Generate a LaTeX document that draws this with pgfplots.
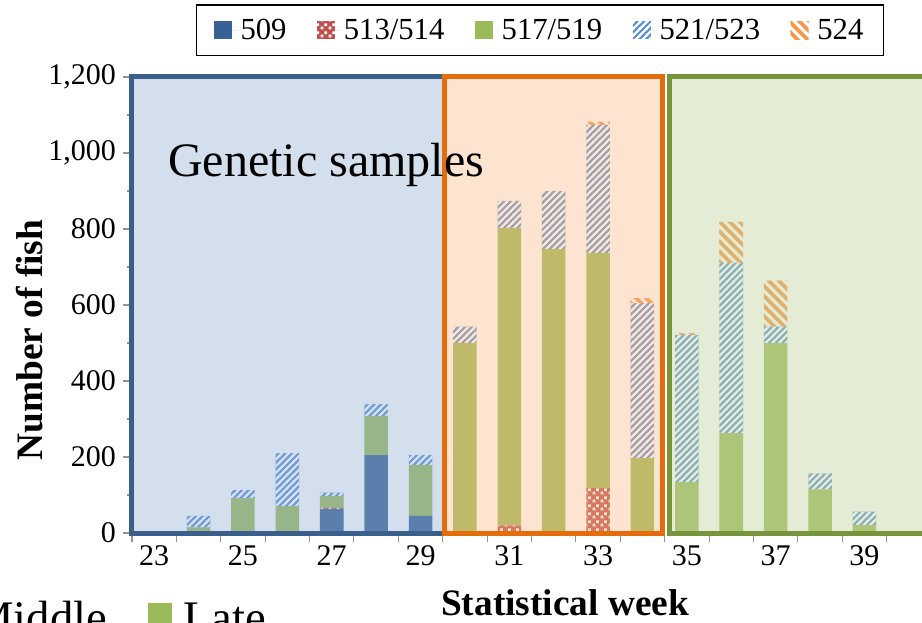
\documentclass[border=0pt]{standalone}
\usepackage{fontspec}
\setmainfont{Liberation Serif}
\usepackage{pgfplots}
\pgfplotsset{compat=1.18}
\usetikzlibrary{patterns}

\definecolor{c509}{RGB}{56,98,149}
\definecolor{c513}{RGB}{192,80,77}
\definecolor{c517}{RGB}{155,187,89}
\definecolor{c521}{RGB}{85,142,213}
\definecolor{c524}{RGB}{247,150,70}
\definecolor{ovblue}{RGB}{145,173,211}
\definecolor{ovorange}{RGB}{250,186,134}
\definecolor{ovgreen}{RGB}{196,212,162}
\definecolor{bdblue}{RGB}{58,95,139}
\definecolor{bdorange}{RGB}{228,108,10}
\definecolor{bdgreen}{RGB}{119,147,60}

% hatch fills
\pgfdeclarepatternformonly{stripesNE}{\pgfqpoint{-1pt}{-1pt}}{\pgfqpoint{6pt}{6pt}}{\pgfqpoint{5pt}{5pt}}{%
  \pgfsetlinewidth{1.7pt}%
  \pgfpathmoveto{\pgfqpoint{-1pt}{-1pt}}%
  \pgfpathlineto{\pgfqpoint{6pt}{6pt}}%
  \pgfusepath{stroke}}
\pgfdeclarepatternformonly{stripesNW}{\pgfqpoint{-1pt}{-1pt}}{\pgfqpoint{8.5pt}{8.5pt}}{\pgfqpoint{7.5pt}{7.5pt}}{%
  \pgfsetlinewidth{2.8pt}%
  \pgfpathmoveto{\pgfqpoint{-1pt}{8.5pt}}%
  \pgfpathlineto{\pgfqpoint{8.5pt}{-1pt}}%
  \pgfusepath{stroke}}
\pgfdeclarepatternformonly{squaresW}{\pgfqpoint{0pt}{0pt}}{\pgfqpoint{6pt}{6pt}}{\pgfqpoint{6pt}{6pt}}{%
  \pgfpathrectangle{\pgfqpoint{0.5pt}{0.5pt}}{\pgfqpoint{2.3pt}{2.3pt}}%
  \pgfpathrectangle{\pgfqpoint{3.5pt}{3.2pt}}{\pgfqpoint{2.3pt}{2.3pt}}%
  \pgfusepath{fill}}

\begin{document}
\begin{tikzpicture}
\path[use as bounding box, clip] (-99pt,-66.75pt) rectangle (592.5pt,399.75pt);
\begin{axis}[
  scale only axis, width=599.25pt, height=342pt,
  ybar stacked, bar width=0.53,
  xmin=22.5, xmax=40.5, ymin=0, ymax=1200,
  clip=false,
  axis line style={draw=none},
  tick pos=left, tick align=outside,
  tick style={color=gray!85, line width=0.8pt},
  major tick length=6.5pt, minor tick length=3.8pt,
  xtick={22.5,23.5,...,40.5}, xticklabels={},
  extra x ticks={23,25,...,39},
  extra x tick style={major tick length=0pt},
  ytick={0,200,...,1200}, minor y tick num=1,
  tick label style={font=\fontsize{22.5}{27}\selectfont},
  xticklabel style={yshift=-6pt},
  yticklabel style={xshift=-2pt},
  ylabel={Number of fish},
  ylabel style={font=\bfseries\fontsize{28}{34}\selectfont, at={(axis description cs:-0.128,0.423)}, anchor=center},
  xlabel={Statistical week},
  xlabel style={font=\bfseries\fontsize{28}{34}\selectfont, at={(axis description cs:0.542,-0.182)}, anchor=base},
  legend image code/.code={\path[#1] (0pt,-6.75pt) rectangle (13.5pt,6.75pt); \path (0pt,0pt) -- (18pt,0pt);},
  legend style={at={(axis description cs:0.5106,1.103)}, anchor=center,
    legend columns=-1, draw=black, line width=1pt,
    font=\fontsize{23}{28}\selectfont, inner xsep=13pt, inner ysep=8.5pt,
    /tikz/every even column/.append style={column sep=21pt}},
  /pgf/number format/assume math mode=true,
]
\addplot[fill=c509, draw=none] coordinates {
 (24,0) (25,0) (26,0) (27,63) (28,205) (29,45) (30,0) (31,0)
 (32,0) (33,5) (34,0) (35,0) (36,0) (37,0) (38,0) (39,0)};
\addplot[fill=c513, draw=none, postaction={pattern=squaresW, pattern color=white}] coordinates {
 (24,0) (25,0) (26,0) (27,3) (28,0) (29,0) (30,0) (31,20)
 (32,0) (33,113) (34,0) (35,0) (36,0) (37,5) (38,0) (39,0)};
\addplot[fill=c517, draw=none] coordinates {
 (24,15) (25,92) (26,71) (27,32) (28,103) (29,134) (30,500) (31,783)
 (32,747) (33,619) (34,197) (35,134) (36,263) (37,495) (38,115) (39,21)};
\addplot[fill=c521, draw=none, postaction={pattern=stripesNE, pattern color=white}] coordinates {
 (24,30) (25,21) (26,139) (27,8) (28,31) (29,26) (30,43) (31,71)
 (32,153) (33,337) (34,408) (35,387) (36,448) (37,43) (38,42) (39,35)};
\addplot[fill=white, draw=none, postaction={pattern=stripesNW, pattern color=c524},
  legend image post style={draw=c524, line width=1pt}] coordinates {
 (24,0) (25,0) (26,0) (27,0) (28,0) (29,0) (30,0) (31,0)
 (32,0) (33,8) (34,13) (35,5) (36,108) (37,121) (38,0) (39,0)};
\legend{509,513/514,517/519,521/523,524}

\coordinate (b0) at (axis cs:22.5,0);
\coordinate (b1) at (axis cs:29.55,1200);
\coordinate (o0) at (axis cs:29.55,0);
\coordinate (o1) at (axis cs:34.45,1200);
\coordinate (g0) at (axis cs:34.6,0);
\coordinate (g1) at (axis cs:41,1200);
\coordinate (gs) at (axis cs:23.31,937);
\end{axis}

% shaded periods laid over the bars
\fill[ovblue, fill opacity=0.39] (b0) rectangle (b1);
\fill[ovorange, fill opacity=0.39] (o0) rectangle (o1);
\fill[ovgreen, fill opacity=0.44] (g0) rectangle (g1);
\draw[bdblue, line width=3.75pt] (b0) rectangle (b1);
\draw[bdgreen, line width=3.75pt] (g0) rectangle (g1);
\draw[bdorange, line width=3.75pt] (o0) rectangle (o1);
\node[anchor=base west, inner sep=0, font=\fontsize{36}{43}\selectfont] at (gs) {Genetic samples};

% second legend, cut off at the bottom edge
\node[anchor=base west, inner sep=0, font=\fontsize{35}{42}\selectfont] at (-120pt,-75pt) {Middle};
\fill[c517] (12pt,-52.5pt) rectangle (30pt,-70.5pt);
\node[anchor=base west, inner sep=0, font=\fontsize{35}{42}\selectfont] at (38.25pt,-75pt) {Late};
\end{tikzpicture}
\end{document}
